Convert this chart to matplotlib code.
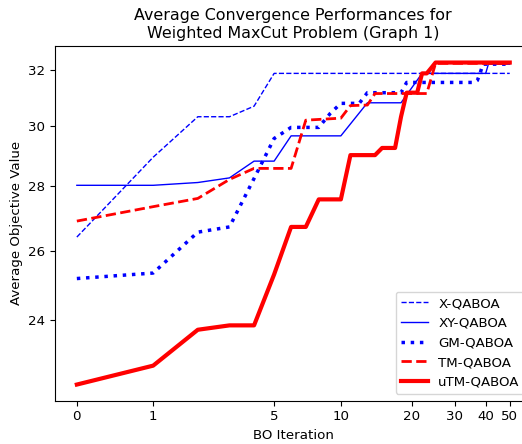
import matplotlib
matplotlib.use("Agg")
import matplotlib.pyplot as plt
import numpy as np
from matplotlib.ticker import FixedLocator, FixedFormatter, NullLocator

# BO iteration (x) and average objective value (y) per method
x_iters = [0, 1, 2, 3, 4, 5, 50]
x_vals = [26.41, 28.95, 30.33, 30.33, 30.70, 31.88, 31.88]

xy_iters = [0, 1, 2, 3, 4, 5, 6, 10, 13, 18, 22, 40, 41, 50]
xy_vals = [28.03, 28.03, 28.12, 28.27, 28.82, 28.82, 29.67, 29.67, 30.82, 30.82,
           31.88, 31.88, 32.22, 32.22]

gm_iters = [0, 1, 2, 3, 4, 5, 6, 8, 9, 10, 12, 13, 18, 19, 36, 37, 38, 39, 50]
gm_vals = [25.18, 25.34, 26.56, 26.72, 28.25, 29.58, 29.96, 29.96, 30.45, 30.80,
           30.80, 31.18, 31.18, 31.55, 31.55, 31.62, 31.90, 32.22, 32.22]

tm_iters = [0, 1, 2, 3, 4, 6, 7, 10, 11, 13, 14, 23, 25, 50]
tm_vals = [26.90, 27.35, 27.61, 28.22, 28.58, 28.58, 30.21, 30.28, 30.72, 30.74,
           31.15, 31.15, 32.25, 32.25]

utm_iters = [0, 1, 2, 3, 4, 5, 6, 7, 8, 10, 11, 14, 15, 17, 18, 19, 21, 22, 23, 24, 25, 50]
utm_vals = [22.29, 22.78, 23.74, 23.86, 23.86, 25.30, 26.72, 26.72, 27.58, 27.58,
            29.02, 29.02, 29.26, 29.26, 30.33, 31.18, 31.18, 31.88, 31.88, 32.08,
            32.28, 32.28]

x_ticks = [0, 1, 5, 10, 20, 30, 40, 50]
y_ticks = [24, 26, 28, 30, 32]

plt.rcParams["font.size"] = 9.6

fig = plt.figure(figsize=(5.22, 4.44), dpi=100)
ax = fig.add_axes([55 / 522, 43.3 / 444, 476.6 / 522, 354.7 / 444])

ax.plot(x_iters, x_vals, color="blue", linestyle="--", linewidth=1, label="X-QABOA")
ax.plot(xy_iters, xy_vals, color="blue", linestyle="-", linewidth=1, label="XY-QABOA")
ax.plot(gm_iters, gm_vals, color="blue", linestyle=":", linewidth=2.5, label="GM-QABOA")
ax.plot(tm_iters, tm_vals, color="red", linestyle="--", linewidth=2, label="TM-QABOA")
ax.plot(utm_iters, utm_vals, color="red", linestyle="-", linewidth=3, label="uTM-QABOA")

# x axis is log(1 + iteration)
ax.set_xscale("function", functions=(np.log1p, np.expm1))
ax.set_yscale("log")
ax.set_xlim(-0.18, 61.2)
ax.set_ylim(21.88, 32.9)

ax.xaxis.set_major_locator(FixedLocator(x_ticks))
ax.xaxis.set_major_formatter(FixedFormatter([str(t) for t in x_ticks]))
ax.xaxis.set_minor_locator(NullLocator())
ax.yaxis.set_major_locator(FixedLocator(y_ticks))
ax.yaxis.set_major_formatter(FixedFormatter([str(t) for t in y_ticks]))
ax.yaxis.set_minor_locator(NullLocator())

ax.set_xlabel("BO Iteration")
ax.set_ylabel("Average Objective Value")
ax.set_title("Average Convergence Performances for\nWeighted MaxCut Problem (Graph 1)",
             fontsize=11.4)
ax.legend(loc="lower right")

fig.savefig("out.png", dpi=100)
